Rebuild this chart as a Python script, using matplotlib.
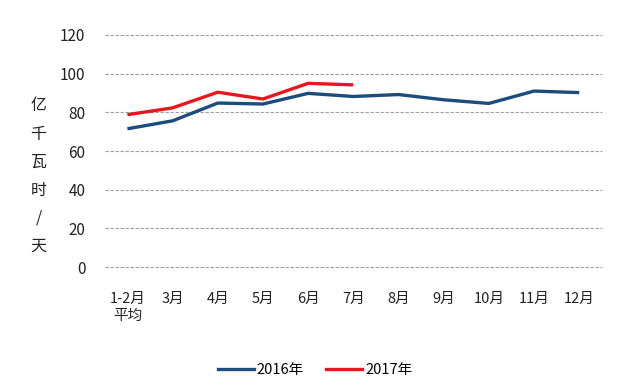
import matplotlib
matplotlib.use("Agg")
import matplotlib.pyplot as plt
from matplotlib.lines import Line2D

plt.rcParams['font.family'] = ['Noto Sans CJK SC', 'DejaVu Sans']

categories = ["1-2月\n平均", "3月", "4月", "5月", "6月", "7月", "8月", "9月", "10月", "11月", "12月"]
values_2016 = [71.5, 75.6, 84.8, 84.3, 89.8, 88.2, 89.2, 86.5, 84.6, 91.0, 90.2]
values_2017 = [78.8, 82.3, 90.4, 86.9, 95.0, 94.2]
y_ticks = [0, 20, 40, 60, 80, 100, 120]
series_names = ["2016年", "2017年"]

c16 = "#1B4C7C"
c17 = "#E8161E"

fig = plt.figure(figsize=(6.43, 3.87), dpi=100)
ax = fig.add_axes([0.163, 0.31, 0.773, 0.5996])

x = list(range(len(categories)))
ax.plot(x, values_2016, color=c16, lw=2.4, solid_joinstyle='round', solid_capstyle='butt')
ax.plot(x[:len(values_2017)], values_2017, color=c17, lw=2.4, solid_joinstyle='round', solid_capstyle='butt')

ax.set_xlim(-0.5, len(categories) - 0.5)
ax.set_ylim(0, 120)
ax.set_yticks(y_ticks)
for t in y_ticks:
    ax.axhline(t, color="#a0a0a0", lw=0.8, ls=(0, (3, 1.5)), zorder=0, clip_on=False)
for s in ax.spines.values():
    s.set_visible(False)
ax.tick_params(axis='both', length=0)
ax.tick_params(axis='y', pad=14, labelsize=11, labelcolor="#222222")
ax.set_xticks(x)
ax.set_xticklabels(categories, fontsize=10.5, color="#222222", linespacing=1.3)
ax.tick_params(axis='x', pad=18)
for lab in ax.get_xticklabels():
    lab.set_verticalalignment('top')

fig.text(0.06, 0.545, "\n".join("亿千瓦时/天"), ha='center', va='center',
         fontsize=11.5, color="#222222", linespacing=1.85)

handles = [Line2D([], [], color=c16, lw=2.4), Line2D([], [], color=c17, lw=2.4)]
fig.legend(handles, series_names, loc='center', bbox_to_anchor=(0.49, 0.044),
           ncol=2, frameon=False, fontsize=10.5, handlelength=2.5,
           handletextpad=0.2, columnspacing=1.5)

fig.savefig("out.png", dpi=100)
